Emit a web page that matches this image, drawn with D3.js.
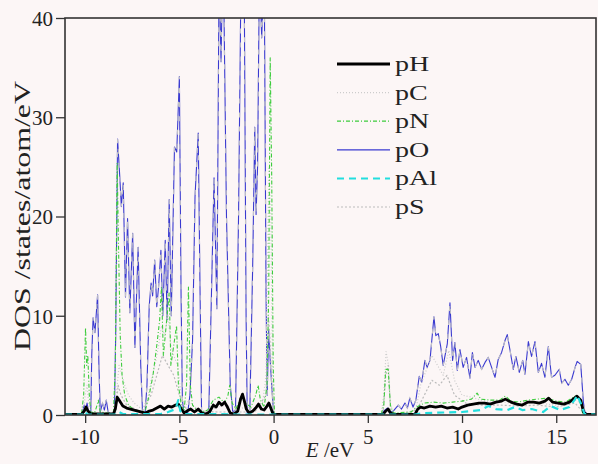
<!DOCTYPE html>
<html><head><meta charset="utf-8">
<script src="https://cdn.jsdelivr.net/npm/d3@7"></script>
<style>
html,body{margin:0;padding:0;background:#fcf6f6;}
svg{display:block;}
</style></head><body>
<svg id="c" width="598" height="464"></svg>
<script>
// ---------- data (E in eV, DOS in states/atom/eV) ----------
const seriesNames = ["pH","pC","pN","pO","pAl","pS"];
const xMajorTicks = [-10,-5,0,5,10,15];
const yMajorTicks = [0,10,20,30,40];

const pO = [[-11.07,0],[-10.3,0],[-10.15,0.2],[-10.05,1.0],[-9.98,0.5],[-9.9,1.2],[-9.82,0.4],[-9.7,0.3],[-9.65,6],[-9.58,9.8],[-9.48,8.3],[-9.34,12.1],[-9.27,5],[-9.2,0.3],[-9.08,1.2],[-8.98,0.5],[-8.88,1.5],[-8.78,0.3],[-8.6,0],[-8.45,0.1],[-8.38,8],[-8.28,27.8],[-8.16,23.9],[-8.08,21],[-7.98,23.4],[-7.86,11.9],[-7.75,19.8],[-7.63,10.3],[-7.48,18.3],[-7.36,6.8],[-7.19,16.9],[-7.05,5],[-6.95,0],[-6.82,0.2],[-6.72,3],[-6.6,11],[-6.5,13.3],[-6.42,12],[-6.31,15.6],[-6.2,10.9],[-6.1,13],[-5.98,16.6],[-5.88,10],[-5.75,17.6],[-5.65,9.6],[-5.54,21.7],[-5.43,10],[-5.26,27],[-5.14,26.5],[-5.0,34.1],[-4.91,12],[-4.84,1.5],[-4.76,0.3],[-4.56,0.2],[-4.44,2],[-4.3,7.5],[-4.17,22],[-4.0,28.4],[-3.9,12],[-3.82,0],[-3.6,0],[-3.44,0.3],[-3.3,12],[-3.16,23.9],[-3.01,10.7],[-2.89,45],[-2.79,35.6],[-2.68,48],[-2.5,20],[-2.3,3],[-2.17,0.3],[-2.02,0.5],[-1.86,20],[-1.72,46],[-1.56,44],[-1.46,10],[-1.4,0.2],[-1.26,0.5],[-1.11,15],[-1.0,29],[-0.93,20.2],[-0.85,25],[-0.75,45],[-0.63,38],[-0.5,46],[-0.4,12],[-0.34,2],[-0.26,8.5],[-0.18,5.5],[-0.1,3],[0,0.2],[0.1,0],[5.7,0],[5.85,0.4],[6.05,0.7],[6.15,0.3],[6.35,0.4],[6.62,1.0],[6.79,0.6],[6.97,1.2],[7.1,0.7],[7.23,1.7],[7.4,0.8],[7.55,1.5],[7.73,3.9],[7.86,3.3],[8.03,5.5],[8.15,4.8],[8.3,5.5],[8.51,9.9],[8.61,8],[8.74,8.2],[8.86,7],[9.0,5],[9.22,7.2],[9.36,11.3],[9.5,5.5],[9.62,7.3],[9.75,4.5],[9.89,6.6],[10.06,4.8],[10.24,5.8],[10.42,3.7],[10.55,6.3],[10.69,4.8],[10.86,5.5],[11.04,4.6],[11.22,5.3],[11.39,5.8],[11.57,4.8],[11.75,3.8],[11.92,5.6],[12.1,6.3],[12.28,7.5],[12.4,8.1],[12.55,6.5],[12.72,4.6],[12.86,5.9],[13.04,4.3],[13.22,5.5],[13.34,4.1],[13.52,7.4],[13.69,5.9],[13.87,7.4],[14.05,4.3],[14.22,5.2],[14.4,3.8],[14.58,6.9],[14.75,3.8],[14.93,4.0],[15.16,4.6],[15.29,3.2],[15.46,3.6],[15.64,3.0],[15.82,3.6],[16.0,4.8],[16.11,5.4],[16.3,5.1],[16.44,1.3],[16.52,0.3],[16.7,0],[17.11,0]];

const pN = [[-11.07,0],[-10.2,0],[-10.08,2],[-9.98,8.8],[-9.92,5],[-9.86,6],[-9.78,2],[-9.7,0.3],[-9.5,0.2],[-9.4,0.8],[-9.3,1.5],[-9.2,0.3],[-8.5,0.1],[-8.4,5],[-8.3,25.4],[-8.24,18],[-8.14,8],[-8.04,4],[-7.9,2],[-7.7,1],[-7.4,0.5],[-7.0,0.3],[-6.8,0.5],[-6.6,2],[-6.4,4],[-6.2,7],[-6.05,9.5],[-5.95,12.9],[-5.85,6],[-5.7,9],[-5.54,12.3],[-5.45,5],[-5.3,7],[-5.15,9],[-5.05,3],[-4.9,1],[-4.75,0.5],[-4.62,3],[-4.52,12.9],[-4.42,3],[-4.3,1],[-4.1,0.5],[-3.8,0.3],[-3.5,0.5],[-3.2,1.5],[-2.9,1.8],[-2.6,1.2],[-2.42,2],[-2.33,3],[-2.2,1.2],[-2.0,0.6],[-1.7,2],[-1.5,1.2],[-1.2,0.8],[-0.95,2],[-0.82,3],[-0.7,1.5],[-0.5,0.8],[-0.35,3],[-0.26,12],[-0.18,36],[-0.1,24],[-0.02,5],[0.05,0],[5.7,0],[5.85,1],[5.95,4.6],[6.08,4.6],[6.2,1],[6.35,0.2],[7.3,0.3],[7.6,0.8],[8.0,1.2],[8.5,1.3],[9.0,1.2],[9.5,1.3],[10.0,1.4],[10.5,1.6],[10.8,2.2],[11.0,1.6],[11.5,1.5],[12.0,1.5],[12.3,1.9],[12.6,1.4],[13.0,1.3],[13.5,1.5],[14.0,1.6],[14.5,1.7],[15.0,1.4],[15.5,1.3],[16.0,1.9],[16.2,1.8],[16.4,0.2],[16.6,0],[17.11,0]];

const pC = [[-11.07,0],[-10.1,0],[-10.0,2],[-9.9,3],[-9.8,1],[-9.6,0.2],[-8.45,0.1],[-8.3,3],[-8.2,5],[-8.05,4],[-7.9,3],[-7.7,2],[-7.4,1.2],[-7.0,0.6],[-6.7,1.5],[-6.5,3.5],[-6.3,5],[-6.1,7],[-5.95,9],[-5.8,8],[-5.6,10],[-5.45,7],[-5.3,6],[-5.1,5],[-4.9,2],[-4.7,0.8],[-4.5,1.5],[-4.3,1],[-4.0,0.5],[-3.5,0.3],[-3.0,0.8],[-2.5,1],[-2.0,0.5],[-1.5,0.8],[-1.0,0.6],[-0.6,1],[-0.4,4],[-0.3,18],[-0.25,25],[-0.15,20],[-0.05,3],[0.05,0],[5.7,0],[5.85,2],[5.97,6.4],[6.1,5],[6.2,1],[6.4,0.1],[7.4,0.3],[7.6,1],[7.8,3],[8.1,4.5],[8.4,6],[8.7,5],[9.0,4],[9.3,6.5],[9.6,3.5],[10.0,2],[10.5,1.8],[11.0,1.5],[11.5,1.3],[12.0,1.4],[12.5,1.2],[13.0,1.1],[13.5,1.2],[14.0,1.3],[14.5,1.1],[15.0,1.0],[15.5,1.1],[16.0,1.5],[16.3,1.2],[16.5,0.1],[17.11,0]];

const pS = [[-11.07,0],[-8.4,0],[-8.25,3],[-8.1,2],[-7.8,1],[-7.0,0.3],[-6.5,2],[-6.2,4],[-5.9,6],[-5.6,5],[-5.3,4],[-5.0,2],[-4.6,0.5],[-3.0,0.3],[-1.0,0.3],[-0.4,2],[-0.28,10],[-0.2,8],[-0.05,1],[0.05,0],[5.8,0],[5.95,4],[6.08,5],[6.2,0.5],[6.4,0],[7.6,0.5],[8.0,2],[8.4,3.5],[8.8,3],[9.2,4],[9.6,2],[10.2,1.2],[11,1],[12,1],[13,0.9],[14,1],[15,0.8],[16,1.2],[16.5,0.1],[17.11,0]];

const pH = [[-11.07,0.05],[-10.2,0.05],[-10.05,0.4],[-9.95,0.8],[-9.85,0.4],[-9.7,0.1],[-8.5,0.1],[-8.4,0.6],[-8.3,1.8],[-8.2,1.5],[-8.1,1.2],[-8.0,0.9],[-7.8,0.7],[-7.6,0.6],[-7.4,0.5],[-7.2,0.4],[-7.0,0.3],[-6.8,0.2],[-6.6,0.4],[-6.4,0.5],[-6.2,0.7],[-6.0,0.9],[-5.8,0.6],[-5.6,0.9],[-5.4,0.8],[-5.2,1.0],[-5.05,1.1],[-4.9,0.6],[-4.75,0.2],[-4.6,0.4],[-4.4,0.6],[-4.2,0.3],[-4.0,0.6],[-3.8,0.2],[-3.6,0.1],[-3.4,0.3],[-3.2,1.0],[-3.05,0.8],[-2.9,1.3],[-2.75,1.0],[-2.6,1.3],[-2.45,0.8],[-2.3,0.2],[-2.1,0.1],[-1.9,0.4],[-1.75,1.6],[-1.65,2.1],[-1.55,1.4],[-1.45,0.6],[-1.3,0.2],[-1.1,0.4],[-0.95,0.7],[-0.8,1.1],[-0.65,0.6],[-0.5,0.5],[-0.35,0.9],[-0.25,1.2],[-0.15,0.7],[-0.05,0.2],[0.05,0.05],[5.8,0.05],[5.95,0.4],[6.08,0.6],[6.2,0.2],[6.4,0.05],[7.5,0.05],[7.65,0.6],[7.8,0.8],[8.0,0.7],[8.3,0.9],[8.6,0.8],[8.9,0.9],[9.2,0.7],[9.5,0.8],[9.8,0.6],[10.0,0.8],[10.3,1.0],[10.6,1.1],[10.9,1.2],[11.2,1.2],[11.5,1.1],[11.8,1.3],[12.1,1.4],[12.3,1.6],[12.6,1.3],[12.9,1.1],[13.2,1.0],[13.5,1.3],[13.8,1.3],[14.1,1.2],[14.4,1.4],[14.6,1.7],[14.8,1.3],[15.1,1.2],[15.4,1.1],[15.7,1.3],[15.9,1.6],[16.1,1.9],[16.3,1.5],[16.45,0.3],[16.6,0.05],[17.11,0.05]];

const pAl = [[-11.07,0.05],[-10.1,0.05],[-10.0,0.4],[-9.9,0.05],[-8.3,0.05],[-8.2,0.3],[-8.0,0.1],[-6.0,0.1],[-5.6,0.3],[-5.2,0.6],[-5.06,1.5],[-4.95,0.4],[-4.8,0.1],[-3.0,0.1],[-2.0,0.05],[0,0.05],[7.5,0.05],[8,0.2],[9,0.25],[10,0.3],[10.5,0.4],[11.0,0.5],[11.4,0.9],[11.8,0.6],[12.4,0.5],[12.8,0.8],[13.2,0.5],[13.7,0.6],[14.3,0.3],[14.7,0.9],[15.2,0.5],[15.7,0.8],[16.0,1.6],[16.1,2.0],[16.3,1.2],[16.5,0.1],[17.11,0.05]];

// ---------- layout ----------
const FONT = "'Liberation Serif', 'Times New Roman', Times, 'DejaVu Serif', serif";
const svg = d3.select("#c");
const X0 = 65, X1 = 596, Y0 = 415, Y1 = 18;
const x = d3.scaleLinear().domain([-11.07, 17.11]).range([X0, X1]);
const y = d3.scaleLinear().domain([0, 40]).range([Y0, Y1]);

svg.append("defs").append("clipPath").attr("id","clip")
  .append("rect").attr("x",X0).attr("y",Y1).attr("width",X1-X0).attr("height",Y0-Y1);

const line = d3.line().x(d=>x(d[0])).y(d=>y(d[1]));
const g = svg.append("g").attr("clip-path","url(#clip)");

const styles = {
  pO:  {stroke:"#3a3ad0", w:1.1, dash:null},
  pC:  {stroke:"#cccccc", w:1.2, dash:"1,2"},
  pS:  {stroke:"#bbbbbb", w:1.2, dash:"2,2"},
  pN:  {stroke:"#3ccc3c", w:1.1, dash:"4,2,1,2"},
  pH:  {stroke:"#000000", w:2.8, dash:null},
  pAl: {stroke:"#22dede", w:2.2, dash:"7,5"}
};
const dataMap = {pH, pC, pN, pO, pAl, pS};

function drawSeries(name){
  const s = styles[name];
  g.append("path").datum(dataMap[name])
    .attr("d", line).attr("fill","none")
    .attr("stroke", s.stroke).attr("stroke-width", s.w)
    .attr("stroke-linejoin","round")
    .attr("stroke-dasharray", s.dash);
}
drawSeries("pO");
// light overlay on pO (visual texture of the original)
g.append("path").datum(pO).attr("d", line).attr("fill","none")
  .attr("stroke","#c4c4c4").attr("stroke-width",1.1).attr("stroke-dasharray","5,9");
drawSeries("pC");
drawSeries("pS");
drawSeries("pN");
drawSeries("pH");
drawSeries("pAl");

// ---------- axes ----------
const axisColor = "#333";
const xMinor = d3.range(-11, 18, 1).filter(v => !xMajorTicks.includes(v));
const yMinor = d3.range(0, 41, 2).filter(v => !yMajorTicks.includes(v));

const gx = svg.append("g").attr("transform",`translate(0,${Y0})`);
gx.call(d3.axisBottom(x).tickValues(xMinor).tickSize(5).tickFormat(""));
gx.call(d3.axisBottom(x).tickValues(xMajorTicks).tickSize(8).tickFormat(d3.format("d")).tickPadding(6));
gx.selectAll("path.domain").remove();
gx.selectAll("line").attr("stroke",axisColor).attr("stroke-width",1.3);
gx.selectAll("text").style("font-size","21px").style("font-family",FONT).attr("fill","#222")
  .text(d=>String(d));

const gy = svg.append("g").attr("transform",`translate(${X0},0)`);
gy.call(d3.axisLeft(y).tickValues(yMinor).tickSize(5).tickFormat(""));
gy.call(d3.axisLeft(y).tickValues(yMajorTicks).tickSize(9).tickFormat(d3.format("d")).tickPadding(3));
gy.selectAll("path.domain").remove();
gy.selectAll("line").attr("stroke",axisColor).attr("stroke-width",1.3);
gy.selectAll("text").style("font-size","21px").style("font-family",FONT).attr("fill","#222").attr("dy","0.35em");

// frame
svg.append("rect").attr("x",X0).attr("y",Y1).attr("width",X1-X0).attr("height",Y0-Y1)
  .attr("fill","none").attr("stroke",axisColor).attr("stroke-width",1.6);

// axis titles
svg.append("text").attr("transform","translate(30,216) rotate(-90)")
  .attr("text-anchor","middle").style("font-size","23px").style("font-family",FONT).attr("fill","#222")
  .attr("textLength",270).attr("lengthAdjust","spacingAndGlyphs")
  .text("DOS /states/atom/eV");
const xt = svg.append("text").attr("x",330).attr("y",457).attr("text-anchor","middle")
  .style("font-size","21px").style("font-family",FONT).attr("fill","#222");
xt.append("tspan").attr("font-style","italic").text("E");
xt.append("tspan").text(" /eV");

// ---------- legend ----------
const legY0 = 64, legStep = 28.6;
const leg = svg.append("g");
seriesNames.forEach((n,i)=>{
  const s = styles[n];
  const yy = legY0 + i*legStep;
  leg.append("line").attr("x1",337).attr("x2",390).attr("y1",yy).attr("y2",yy)
    .attr("stroke",s.stroke).attr("stroke-width",n==="pH"?3:(n==="pAl"?2:1.2))
    .attr("stroke-dasharray", s.dash);
  leg.append("text").attr("transform",`translate(395,${yy}) scale(1.4,1)`).attr("dy","0.35em")
    .style("font-size","20px").style("font-family",FONT).attr("fill","#222").text(n);
});
</script>
</body></html>
